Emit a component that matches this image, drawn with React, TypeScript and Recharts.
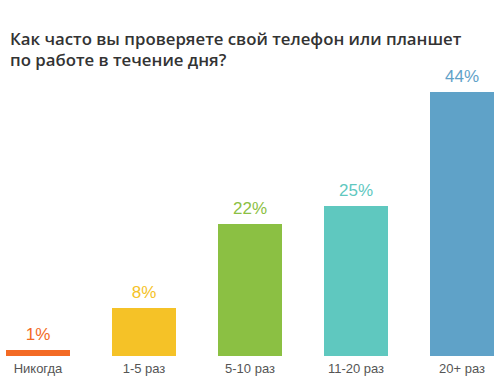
import { BarChart, Bar, XAxis, YAxis, Cell, LabelList } from 'recharts';

const categories = ['Никогда', '1-5 раз', '5-10 раз', '11-20 раз', '20+ раз'];
const values = [1, 8, 22, 25, 44];
const colors = ['#f36a24', '#f5c227', '#8bc043', '#5fc8bf', '#5fa2c8'];

const data = categories.map((name, i) => ({ name, value: values[i] }));

export default function App() {
  return (
    <div style={{ position: 'absolute', left: 0, top: 0, width: 500, height: 381, overflow: 'hidden', background: '#fff' }}>
      <div
        style={{
          position: 'absolute',
          left: 10,
          top: 28,
          fontFamily: '"Open Sans", sans-serif',
          fontWeight: 600,
          fontSize: 16.8,
          lineHeight: '21px',
          color: '#333',
          whiteSpace: 'nowrap',
        }}
      >
        Как часто вы проверяете свой телефон или планшет
        <br />
        по работе в течение дня?
      </div>
      <div style={{ position: 'absolute', left: -15, top: 0 }}>
        <BarChart width={530} height={381} data={data} margin={{ top: 56, right: 0, bottom: 5, left: 0 }} barSize={64}>
          <XAxis
            dataKey="name"
            axisLine={false}
            tickLine={false}
            height={20}
            tick={{ fill: '#555', fontSize: 13, fontFamily: '"Liberation Sans", Arial, sans-serif' }}
          />
          <YAxis hide domain={[0, 50]} />
          <Bar dataKey="value" isAnimationActive={false}>
            {data.map((d, i) => (
              <Cell key={d.name} fill={colors[i]} />
            ))}
            <LabelList
              dataKey="value"
              content={(props: any) => {
                const { x, y, width, value, index } = props;
                return (
                  <text
                    x={x + width / 2}
                    y={y - 10}
                    textAnchor="middle"
                    fill={colors[index]}
                    fontSize={17}
                    fontFamily='"Liberation Sans", Arial, sans-serif'
                  >
                    {value}%
                  </text>
                );
              }}
            />
          </Bar>
        </BarChart>
      </div>
    </div>
  );
}
